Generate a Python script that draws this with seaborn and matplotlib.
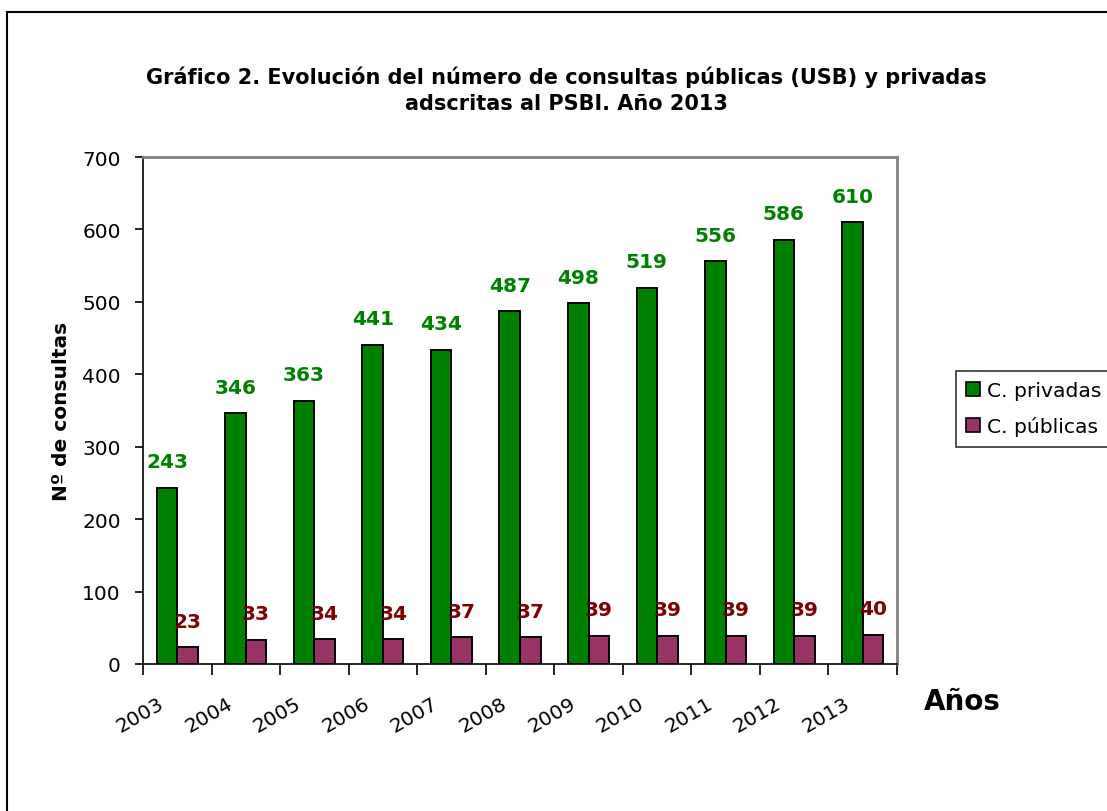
import matplotlib
matplotlib.use("Agg")
import matplotlib.pyplot as plt
import matplotlib.transforms as mtransforms
from matplotlib.patches import Rectangle
import seaborn as sns
import pandas as pd

years = ["2003", "2004", "2005", "2006", "2007", "2008", "2009", "2010", "2011", "2012", "2013"]
privadas = [243, 346, 363, 441, 434, 487, 498, 519, 556, 586, 610]
publicas = [23, 33, 34, 34, 37, 37, 39, 39, 39, 39, 40]
series_names = ["C. privadas", "C. públicas"]
bar_colors = ["#008000", "#993366"]
label_colors = ["#008000", "#800000"]

df = pd.DataFrame({
    "year": years * 2,
    "value": privadas + publicas,
    "serie": [series_names[0]] * len(years) + [series_names[1]] * len(years),
})

sns.set_theme(style="white")
plt.rcParams["font.family"] = ["DejaVu Sans"]
plt.rcParams["text.color"] = "black"
plt.rcParams["axes.labelcolor"] = "black"
plt.rcParams["xtick.color"] = "black"
plt.rcParams["ytick.color"] = "black"

fig = plt.figure(figsize=(11.07, 8.12), dpi=100)
ax = fig.add_axes([143 / 1107, 1 - 665 / 812, (897 - 143) / 1107, (665 - 158) / 812])

sns.barplot(data=df, x="year", y="value", hue="serie", palette=bar_colors,
            width=0.6, edgecolor="black", linewidth=1.4, saturation=1,
            ax=ax, legend=False)

ax.set_ylim(0, 700)
ax.set_xlim(-0.5, len(years) - 0.5)
ax.set_yticks(range(0, 701, 100))
ax.set_xticks([i - 0.5 for i in range(len(years) + 1)], minor=False)
ax.set_xticklabels([""] * (len(years) + 1))
ax.set_xticks(range(len(years)), minor=True)
ax.set_xticklabels(years, minor=True, rotation=30, fontsize=14.5, ha="right")
ax.tick_params(axis="x", which="major", length=8, width=1.2, color="black", direction="out", bottom=True)
ax.tick_params(axis="x", which="minor", length=0, pad=21)
ax.tick_params(axis="y", length=6, width=1.2, color="black", direction="out", left=True, labelsize=14.5, pad=10)
offset = mtransforms.ScaledTranslation(-10 / 100, 0, fig.dpi_scale_trans)
for lab in ax.get_xticklabels(minor=True):
    lab.set_transform(lab.get_transform() + offset)

for s in ["left", "bottom"]:
    ax.spines[s].set_color("black")
    ax.spines[s].set_linewidth(1.2)
for s in ["top", "right"]:
    ax.spines[s].set_color("#808080")
    ax.spines[s].set_linewidth(2)

ax.set_xlabel("")
ax.set_ylabel("Nº de consultas", fontsize=14.5, fontweight="bold")
ax.yaxis.set_label_coords(71 / 1107, 1 - 411 / 812, transform=fig.transFigure)

for cont, col in zip(ax.containers, label_colors):
    ax.bar_label(cont, fmt="%d", padding=12, color=col, fontsize=14.5, fontweight="bold")

fig.text(566 / 1107, 1 - 77 / 812, "Gráfico 2. Evolución del número de consultas públicas (USB) y privadas",
         ha="center", va="center", fontsize=15, fontweight="bold")
fig.text(566 / 1107, 1 - 104 / 812, "adscritas al PSBI. Año 2013",
         ha="center", va="center", fontsize=15, fontweight="bold")
fig.text(962 / 1107, 1 - 702 / 812, "Años", ha="center", va="center", fontsize=20, fontweight="bold")

handles = [Rectangle((0, 0), 1, 1, facecolor=c, edgecolor="black", linewidth=1.2) for c in bar_colors]
leg = fig.legend(handles, series_names, loc="upper left",
                 bbox_to_anchor=(956 / 1107, 1 - 372 / 812), fontsize=14.6,
                 frameon=True, fancybox=False, handlelength=0.7, handleheight=0.7,
                 handletextpad=0.35, borderpad=0.5, labelspacing=0.8, borderaxespad=0)
leg.get_frame().set_edgecolor("black")
leg.get_frame().set_linewidth(1.2)

fig.patches.append(Rectangle((7 / 1107, -0.1), 1.2, 1.1 - 13 / 812, transform=fig.transFigure,
                             fill=False, edgecolor="black", linewidth=1.5, zorder=0))

fig.savefig("out.png", dpi=100)
